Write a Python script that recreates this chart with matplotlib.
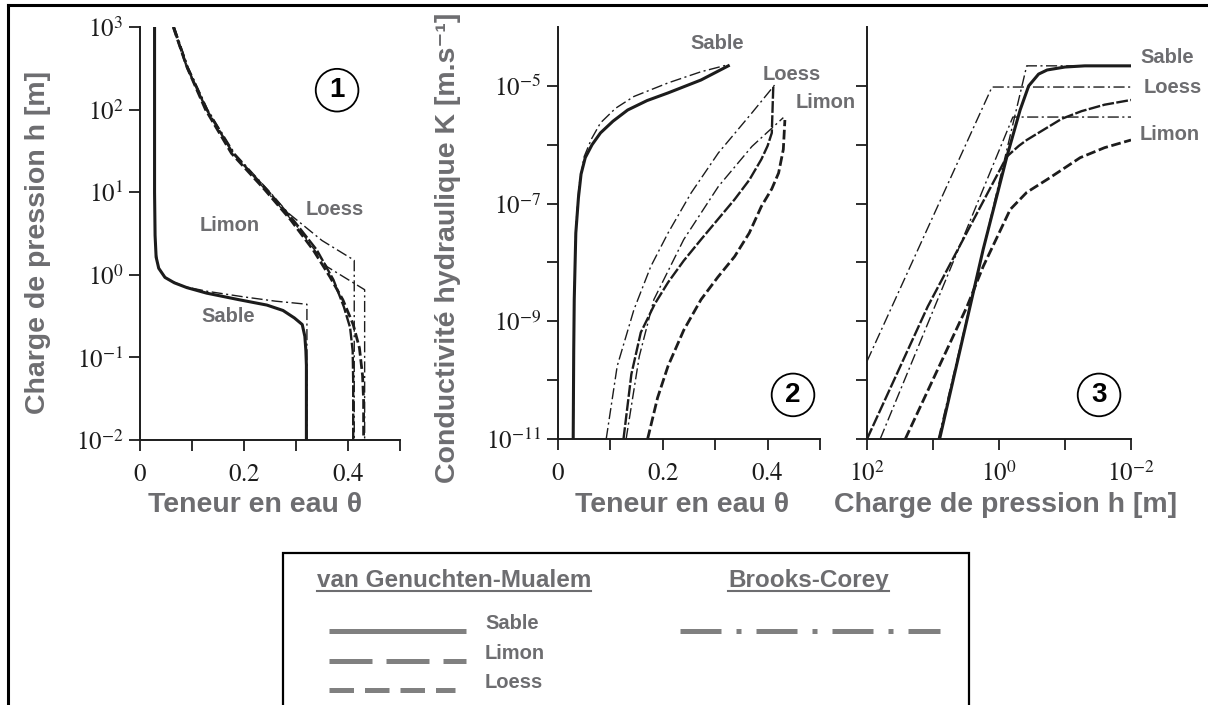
import matplotlib
matplotlib.use('Agg')
import matplotlib.pyplot as plt
import numpy as np
from matplotlib.lines import Line2D
from matplotlib.patches import Rectangle
from matplotlib.ticker import NullLocator

plt.rcParams['mathtext.fontset'] = 'stix'
plt.rcParams['font.family'] = ['Liberation Sans', 'DejaVu Sans']

# ---------------- Données ----------------
# Panneau 1 : teneur en eau theta [-] / charge de pression h [m]
p1_sable_vg_theta = [0.028, 0.028, 0.028, 0.029, 0.031, 0.036, 0.048, 0.066, 0.09, 0.128, 0.19, 0.244, 0.275, 0.297, 0.312, 0.317, 0.319, 0.32, 0.32]
p1_sable_vg_h = [1000, 100, 10, 3, 1.64, 1.2, 0.93, 0.8, 0.7, 0.6, 0.5, 0.43, 0.37, 0.3, 0.25, 0.18, 0.12, 0.08, 0.01]
p1_sable_bc_theta = [0.028, 0.028, 0.029, 0.031, 0.036, 0.05, 0.085, 0.13, 0.2, 0.26, 0.321, 0.321]
p1_sable_bc_h = [1000, 10, 3, 1.8, 1.2, 0.9, 0.72, 0.63, 0.54, 0.48, 0.44, 0.01]
p1_loess_vg_theta = [0.064, 0.09, 0.128, 0.179, 0.244, 0.295, 0.34, 0.372, 0.392, 0.404, 0.409, 0.41, 0.41]
p1_loess_vg_h = [1000, 330, 100, 29.5, 10.7, 4.6, 2.0, 0.87, 0.41, 0.23, 0.12, 0.05, 0.01]
p1_limon_vg_theta = [0.064, 0.09, 0.126, 0.176, 0.24, 0.29, 0.333, 0.365, 0.39, 0.41, 0.422, 0.428, 0.43, 0.43]
p1_limon_vg_h = [1000, 330, 100, 29.5, 10.7, 4.6, 2.0, 0.95, 0.5, 0.25, 0.13, 0.06, 0.03, 0.01]
p1_loess_bc_theta = [0.066, 0.092, 0.13, 0.182, 0.25, 0.285, 0.35, 0.412, 0.412]
p1_loess_bc_h = [1000, 330, 100, 29.5, 10, 5.6, 2.6, 1.5, 0.01]
p1_limon_bc_theta = [0.066, 0.092, 0.13, 0.18, 0.245, 0.3, 0.36, 0.432, 0.432]
p1_limon_bc_h = [1000, 330, 100, 29.5, 10, 4, 1.25, 0.66, 0.01]

# Panneau 2 : teneur en eau theta / log10 de la conductivité K [m/s]
p2_sable_vg_theta = [0.029, 0.030, 0.031, 0.034, 0.039, 0.044, 0.052, 0.065, 0.081, 0.105, 0.133, 0.17, 0.21, 0.273, 0.325]
p2_sable_vg_logk = [-11, -9.5, -8.63, -7.5, -6.9, -6.5, -6.22, -6.0, -5.8, -5.6, -5.41, -5.25, -5.12, -4.9, -4.66]
p2_sable_bc_theta = [0.029, 0.031, 0.034, 0.04, 0.05, 0.064, 0.081, 0.11, 0.145, 0.21, 0.273, 0.325]
p2_sable_bc_logk = [-11, -8.6, -7.4, -6.7, -6.2, -5.9, -5.63, -5.38, -5.18, -4.95, -4.76, -4.64]
p2_loess_bc_theta = [0.092, 0.113, 0.145, 0.177, 0.21, 0.254, 0.306, 0.37, 0.414]
p2_loess_bc_logk = [-11, -9.76, -8.8, -8.07, -7.5, -6.82, -6.14, -5.46, -4.98]
p2_loess_vg_theta = [0.125, 0.14, 0.158, 0.185, 0.21, 0.24, 0.273, 0.305, 0.337, 0.365, 0.388, 0.4, 0.408, 0.41, 0.411]
p2_loess_vg_logk = [-11, -9.9, -9.19, -8.7, -8.34, -7.97, -7.61, -7.27, -6.93, -6.6, -6.25, -6.02, -5.8, -5.24, -4.98]
p2_limon_bc_theta = [0.13, 0.155, 0.183, 0.24, 0.306, 0.37, 0.43]
p2_limon_bc_logk = [-11, -9.6, -8.63, -7.61, -6.71, -6.03, -5.54]
p2_limon_vg_theta = [0.171, 0.19, 0.21, 0.24, 0.273, 0.305, 0.337, 0.365, 0.388, 0.408, 0.421, 0.43, 0.433]
p2_limon_vg_logk = [-11, -10.3, -9.76, -9.15, -8.63, -8.25, -7.9, -7.5, -7.05, -6.75, -6.48, -6.08, -5.58]

# Panneau 3 : log10 de h [m] / log10 de K [m/s]
p3_sable_vg_logh = [0.9, 0.24, -0.12, -0.32, -0.45, -0.6, -0.73, -1.0, -1.3, -2.0]
p3_sable_vg_logk = [-11, -7.78, -6.2, -5.41, -5.0, -4.8, -4.73, -4.68, -4.66, -4.66]
p3_sable_bc_logh = [0.92, -0.42, -2.0]
p3_sable_bc_logk = [-11, -4.66, -4.66]
p3_loess_bc_logh = [2.0, 0.106, -2.0]
p3_loess_bc_logk = [-9.68, -5.02, -5.02]
p3_loess_vg_logh = [2.0, 1.08, -0.12, -0.3, -0.42, -0.67, -0.95, -1.25, -1.6, -2.0]
p3_loess_vg_logk = [-11, -8.75, -6.2, -6.02, -5.92, -5.75, -5.56, -5.43, -5.32, -5.24]
p3_limon_vg_logh = [1.42, 0.485, 0.24, 0.02, -0.17, -0.42, -0.73, -0.92, -1.23, -1.6, -2.0]
p3_limon_vg_logk = [-11, -8.75, -8.07, -7.55, -7.1, -6.81, -6.59, -6.45, -6.22, -6.05, -5.92]
p3_limon_bc_logh = [1.8, -0.21, -2.0]
p3_limon_bc_logk = [-11, -5.53, -5.53]

# Graduations
p1_yticks = [1e-2, 1e-1, 1e0, 1e1, 1e2, 1e3]
p1_ylabels = [r'$10^{-2}$', r'$10^{-1}$', r'$10^{0}$', r'$10^{1}$', r'$10^{2}$', r'$10^{3}$']
theta_ticks = [0, 0.1, 0.2, 0.3, 0.4, 0.5]
theta_labels = [r'$0$', '', r'$0.2$', '', r'$0.4$', '']
k_ticks = [1e-11, 1e-10, 1e-9, 1e-8, 1e-7, 1e-6, 1e-5]
k_labels = [r'$10^{-11}$', '', r'$10^{-9}$', '', r'$10^{-7}$', '', r'$10^{-5}$']
h_ticks = [1e2, 1e1, 1e0, 1e-1, 1e-2]
h_labels = [r'$10^{2}$', '', r'$10^{0}$', '', r'$10^{-2}$']

# ---------------- Styles ----------------
noir = '#1c1c1c'
gris = '#6d6d70'
gris_leg = '#808080'
st_sable = dict(color=noir, lw=2.2, ls='-')
st_limon = dict(color=noir, lw=2.0, dashes=(3.5, 1.3))
st_loess = dict(color=noir, lw=1.7, dashes=(5, 1))
st_bc = dict(color=noir, lw=1.0, dashes=(8, 2.5, 1.5, 2.5))

W, H = 1208, 705
fig = plt.figure(figsize=(W / 100, H / 100), dpi=100)


def fx(px):
    return px / W


def fy(py):
    return 1 - py / H


def axes_px(left, top, right, bottom):
    return fig.add_axes([fx(left), fy(bottom), (right - left) / W, (bottom - top) / H])


def habiller(ax):
    for s in ['top', 'right']:
        ax.spines[s].set_visible(False)
    for s in ['left', 'bottom']:
        ax.spines[s].set_linewidth(1.4)
        ax.spines[s].set_color(noir)
    ax.tick_params(direction='out', length=8, width=1.3, colors=noir, labelsize=18)
    ax.tick_params(axis='x', pad=8)
    ax.tick_params(axis='y', pad=4)
    ax.xaxis.set_minor_locator(NullLocator())
    ax.yaxis.set_minor_locator(NullLocator())
    ax.set_facecolor('none')


def cercle(ax, x, y, num):
    ax.text(x, y, num, transform=ax.transAxes, ha='center', va='center',
            fontsize=20, fontweight='bold', color='black',
            bbox=dict(boxstyle='circle,pad=0.3', fc='white', ec='black', lw=1.3))


def etiquette(ax, x, y, txt):
    ax.text(x, y, txt, transform=ax.transAxes, ha='center', va='center',
            fontsize=14.5, fontweight='bold', color=gris, clip_on=False)


# ---------------- Panneau 1 : courbes de rétention ----------------
ax1 = axes_px(140, 27, 400, 440)
ax1.plot(p1_sable_vg_theta, p1_sable_vg_h, **st_sable)
ax1.plot(p1_sable_bc_theta, p1_sable_bc_h, **st_bc)
ax1.plot(p1_loess_vg_theta, p1_loess_vg_h, **st_loess)
ax1.plot(p1_limon_vg_theta, p1_limon_vg_h, **st_limon)
ax1.plot(p1_loess_bc_theta, p1_loess_bc_h, **st_bc)
ax1.plot(p1_limon_bc_theta, p1_limon_bc_h, **st_bc)
ax1.set_yscale('log')
ax1.set_xlim(0, 0.5)
ax1.set_ylim(1e-2, 1e3)
habiller(ax1)
ax1.set_xticks(theta_ticks, theta_labels)
ax1.set_yticks(p1_yticks, p1_ylabels)
cercle(ax1, 0.758, 0.847, '1')
etiquette(ax1, 0.75, 0.557, 'Loess')
etiquette(ax1, 0.346, 0.52, 'Limon')
etiquette(ax1, 0.338, 0.298, 'Sable')

# ---------------- Panneau 2 : K(theta) ----------------
ax2 = axes_px(558, 27, 820, 439)
ax2.plot(p2_sable_vg_theta, np.power(10.0, p2_sable_vg_logk), **st_sable)
ax2.plot(p2_sable_bc_theta, np.power(10.0, p2_sable_bc_logk), **st_bc)
ax2.plot(p2_loess_bc_theta, np.power(10.0, p2_loess_bc_logk), **st_bc)
ax2.plot(p2_loess_vg_theta, np.power(10.0, p2_loess_vg_logk), **st_loess)
ax2.plot(p2_limon_bc_theta, np.power(10.0, p2_limon_bc_logk), **st_bc)
ax2.plot(p2_limon_vg_theta, np.power(10.0, p2_limon_vg_logk), **st_limon)
ax2.set_yscale('log')
ax2.set_xlim(0, 0.5)
ax2.set_ylim(1e-11, 1e-4)
habiller(ax2)
ax2.set_xticks(theta_ticks, theta_labels)
ax2.set_yticks(k_ticks, k_labels)
cercle(ax2, 0.897, 0.107, '2')
etiquette(ax2, 0.607, 0.961, 'Sable')
etiquette(ax2, 0.893, 0.885, 'Loess')
etiquette(ax2, 1.02, 0.817, 'Limon')

# ---------------- Panneau 3 : K(h) ----------------
ax3 = axes_px(867, 27, 1131, 439)
ax3.plot(np.power(10.0, p3_sable_vg_logh), np.power(10.0, p3_sable_vg_logk), **st_sable)
ax3.plot(np.power(10.0, p3_sable_bc_logh), np.power(10.0, p3_sable_bc_logk), **st_bc)
ax3.plot(np.power(10.0, p3_loess_bc_logh), np.power(10.0, p3_loess_bc_logk), **st_bc)
ax3.plot(np.power(10.0, p3_loess_vg_logh), np.power(10.0, p3_loess_vg_logk), **st_loess)
ax3.plot(np.power(10.0, p3_limon_vg_logh), np.power(10.0, p3_limon_vg_logk), **st_limon)
ax3.plot(np.power(10.0, p3_limon_bc_logh), np.power(10.0, p3_limon_bc_logk), **st_bc)
ax3.set_xscale('log')
ax3.set_yscale('log')
ax3.set_xlim(1e2, 1e-2)
ax3.set_ylim(1e-11, 1e-4)
habiller(ax3)
ax3.set_xticks(h_ticks, h_labels)
ax3.set_yticks(k_ticks, [''] * len(k_ticks))
cercle(ax3, 0.879, 0.107, '3')
etiquette(ax3, 1.136, 0.926, 'Sable')
etiquette(ax3, 1.159, 0.852, 'Loess')
etiquette(ax3, 1.148, 0.738, 'Limon')

# ---------------- Titres des axes ----------------
lab = dict(fontsize=20.5, fontweight='bold', color=gris, ha='center', va='center')
fig.text(fx(255), fy(505), 'Teneur en eau θ', **lab)
fig.text(fx(682), fy(505), 'Teneur en eau θ', **lab)
fig.text(fx(1006), fy(505), 'Charge de pression h [m]', **lab)
fig.text(fx(38), fy(242), 'Charge de pression h [m]', rotation=90, **lab)
fig.text(fx(448), fy(248), 'Conductivité hydraulique K [m.s⁻¹]', rotation=90, **lab)

# ---------------- Cadre extérieur ----------------
fig.add_artist(Line2D([fx(8), 1], [fy(5), fy(5)], color='black', lw=2.2))
fig.add_artist(Line2D([fx(8), fx(8)], [0, fy(5)], color='black', lw=2.2))

# ---------------- Légende ----------------
fig.add_artist(Rectangle((fx(283), fy(780)), (969 - 283) / W, (780 - 553) / H,
                         transform=fig.transFigure, fill=False, ec='black', lw=1.6))
t1 = fig.text(fx(317), fy(587), 'van Genuchten-Mualem', fontsize=17.5, fontweight='bold',
              color=gris, ha='left', va='baseline')
t2 = fig.text(fx(728), fy(587), 'Brooks-Corey', fontsize=17.5, fontweight='bold',
              color=gris, ha='left', va='baseline')
fig.canvas.draw()
for t in (t1, t2):
    bb = t.get_window_extent()
    fig.add_artist(Line2D([fx(bb.x0), fx(bb.x1)], [fy(591), fy(591)], color=gris, lw=1.5))

fig.add_artist(Line2D([fx(329), fx(466)], [fy(631)] * 2, color=gris_leg, lw=3.6,
                      solid_capstyle='butt'))
fig.add_artist(Line2D([fx(329), fx(466)], [fy(661)] * 2, color=gris_leg, lw=3.6,
                      dashes=(8.6, 2.8), dash_capstyle='butt'))
fig.add_artist(Line2D([fx(329), fx(455)], [fy(690)] * 2, color=gris_leg, lw=3.6,
                      dashes=(4.9, 2.2), dash_capstyle='butt'))
fig.add_artist(Line2D([fx(680), fx(940)], [fy(631)] * 2, color=gris_leg, lw=3.6,
                      dashes=(8.2, 3.0, 1.0, 3.0), dash_capstyle='butt'))
leg = dict(fontsize=14.5, fontweight='bold', color=gris, ha='left', va='baseline')
fig.text(fx(485), fy(629), 'Sable', **leg)
fig.text(fx(485), fy(659), 'Limon', **leg)
fig.text(fx(485), fy(688), 'Loess', **leg)

fig.savefig('out.png', dpi=100)
